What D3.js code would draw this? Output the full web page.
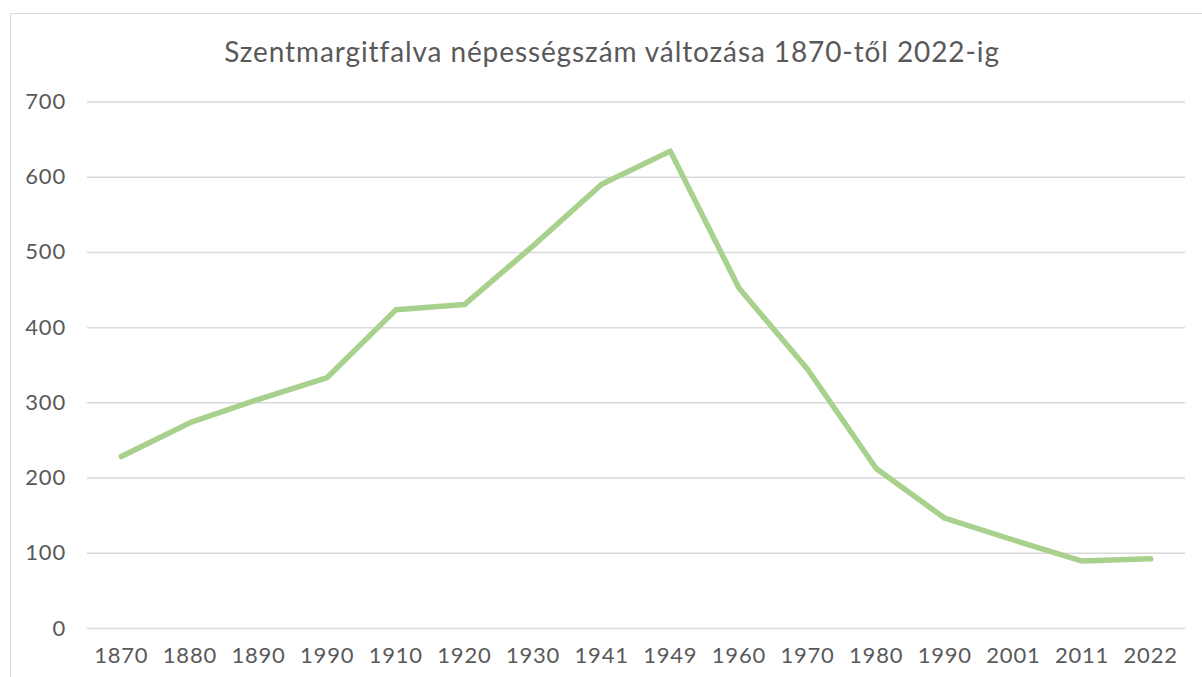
<!DOCTYPE html>
<html>
<head>
<meta charset="utf-8">
<script src="https://cdn.jsdelivr.net/npm/d3@7"></script>
<style>
  html, body { margin: 0; padding: 0; background: #fff; }
  svg { display: block; font-family: 'Lato', 'Noto Sans', sans-serif; }
</style>
</head>
<body>
<svg id="chart" width="1202" height="677"></svg>
<script>
// years as printed on the original chart (1990 appears twice)
const years = ['1870', '1880', '1890', '1990', '1910', '1920', '1930', '1941',
  '1949', '1960', '1970', '1980', '1990', '2001', '2011', '2022'];
const population = [228, 273, 304, 333, 423, 430, 508, 590,
  634, 452, 344, 212, 146, 117, 89, 92];
const yTicks = [0, 100, 200, 300, 400, 500, 600, 700];
const title = 'Szentmargitfalva népességszám változása 1870-től 2022-ig';

const W = 1202, H = 677;
const plot = { left: 87, right: 1185, top: 101.5, bottom: 628 };

const svg = d3.select('#chart');

// chart frame (runs off the right/bottom edge like the screenshot)
svg.append('rect')
  .attr('x', 10.5).attr('y', 13.5)
  .attr('width', W).attr('height', H)
  .attr('fill', '#fff')
  .attr('stroke', '#d9d9d9')
  .attr('stroke-width', 1);

const x = d3.scaleBand()
  .domain(d3.range(years.length))
  .range([plot.left, plot.right]);

const y = d3.scaleLinear()
  .domain([0, 700])
  .range([plot.bottom, plot.top]);

// gridlines + y labels
const yAxis = d3.axisLeft(y)
  .tickValues(yTicks)
  .tickSize(-(plot.right - plot.left))
  .tickPadding(21);

svg.append('g')
  .attr('transform', `translate(${plot.left},0)`)
  .call(yAxis)
  .call(g => g.select('.domain').remove())
  .call(g => g.selectAll('.tick line').attr('stroke', '#d9d9d9').attr('stroke-width', 1.5))
  .call(g => g.selectAll('.tick text')
    .attr('fill', '#595959')
    .style('font-size', '22px')
    .style('letter-spacing', '0.8px')
    .style('font-family', 'Lato, "Noto Sans", sans-serif'));

// x labels
const xAxis = d3.axisBottom(x)
  .tickFormat(i => years[i])
  .tickSize(0)
  .tickPadding(19.5);

svg.append('g')
  .attr('transform', `translate(0,${plot.bottom})`)
  .call(xAxis)
  .call(g => g.select('.domain').remove())
  .call(g => g.selectAll('.tick text')
    .attr('fill', '#595959')
    .style('font-size', '22px')
    .style('letter-spacing', '0.8px')
    .style('font-family', 'Lato, "Noto Sans", sans-serif'));

// the line
const line = d3.line()
  .x((d, i) => x(i) + x.bandwidth() / 2)
  .y(d => y(d));

svg.append('path')
  .datum(population)
  .attr('d', line)
  .attr('fill', 'none')
  .attr('stroke', '#a9d18e')
  .attr('stroke-width', 5.5)
  .attr('stroke-linejoin', 'round')
  .attr('stroke-linecap', 'round');

// title
svg.append('text')
  .attr('x', 612)
  .attr('y', 62)
  .attr('text-anchor', 'middle')
  .attr('fill', '#595959')
  .style('font-size', '28px')
  .style('letter-spacing', '0.9px')
  .text(title);
</script>
</body>
</html>
